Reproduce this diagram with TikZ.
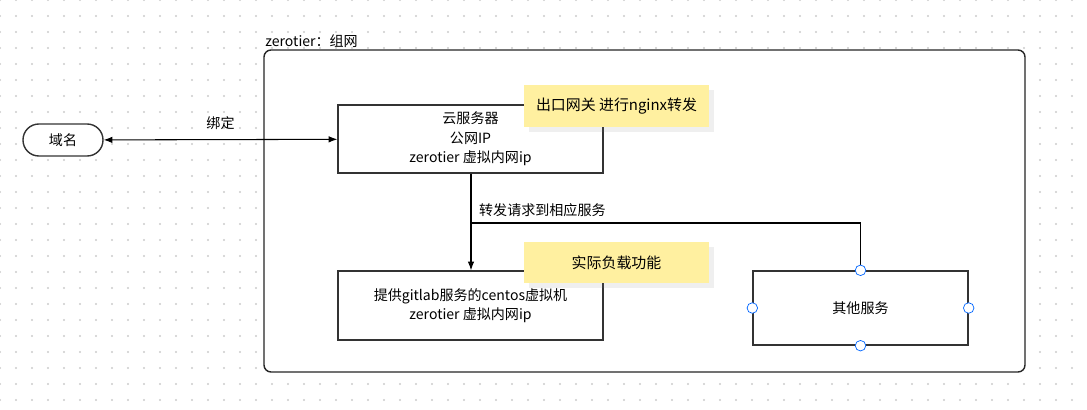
\documentclass[tikz,border=0pt]{standalone}
\usepackage{fontspec}
\setmainfont{Noto Sans CJK SC}
\usetikzlibrary{positioning,arrows.meta,shadows}
\definecolor{notey}{HTML}{FFF0A0}
\begin{document}
\begin{tikzpicture}[x=0.02cm,y=-0.02cm,font=\fontsize{8}{11}\selectfont]
\tikzstyle{box}=[rectangle, draw=black!80, thick, align=center, inner sep=0pt]
\tikzstyle{note}=[rectangle, fill=notey, drop shadow={opacity=0.12}, inner sep=0pt]
\tikzstyle{handle}=[circle, draw=blue!60!cyan, fill=white, inner sep=0pt, minimum size=6pt]
\tikzstyle{connect}=[-{Latex[length=5pt]}, semithick]
\useasboundingbox (0,0) rectangle (1087,409);
\fill[white] (0,0) rectangle (1087,409);
\foreach \i in {0,16,...,1087} \foreach \j in {0,16,...,409} \fill[black!20] (\i,\j) circle (0.6pt);
% group
\draw[black!85, thick, rounded corners=4pt, fill=white] (264,50) rectangle (1025,372);
\node[anchor=south west, inner sep=0pt] (zt) at (265,48) {zerotier：组网};
% nodes
\node[box, rounded corners=9pt, fill=white, minimum width=1.6cm, minimum height=0.64cm] (domain) at (63,140) {域名};
\node[box, fill=white, minimum width=5.3cm, minimum height=1.36cm] (cloud) at (470.5,139) {云服务器\\公网IP\\zerotier 虚拟内网ip};
\node[box, fill=white, minimum width=5.3cm, minimum height=1.38cm] (centos) at (470.5,305.5) {提供gitlab服务的centos虚拟机\\zerotier 虚拟内网ip};
\node[box, fill=white, minimum width=4.3cm, minimum height=1.48cm] (other) at (860.5,308) {其他服务};
\node[note, minimum width=3.7cm, minimum height=0.84cm] (note1) at (616.5,106) {\fontsize{8.5}{11}\selectfont 出口网关 进行nginx转发};
\node[note, minimum width=3.7cm, minimum height=0.82cm] (note2) at (616.5,262.5) {\fontsize{8.5}{11}\selectfont 实际负载功能};
% connectors
\draw[{Latex[length=5pt]}-{Latex[length=5pt]}, semithick] (domain) -- node[above, yshift=2pt] {绑定} (cloud);
\draw[connect] (cloud.south -| 471,0) -- node[right, pos=0.38, xshift=1pt] {转发请求到相应服务} (centos.north -| 471,0);
\coordinate (split) at (471,223);
\draw[semithick, -{Bar[width=5pt]}] (split) -| (other.north);
\foreach \a in {north,south,east,west} \node[handle] at (other.\a) {};
\end{tikzpicture}
\end{document}
